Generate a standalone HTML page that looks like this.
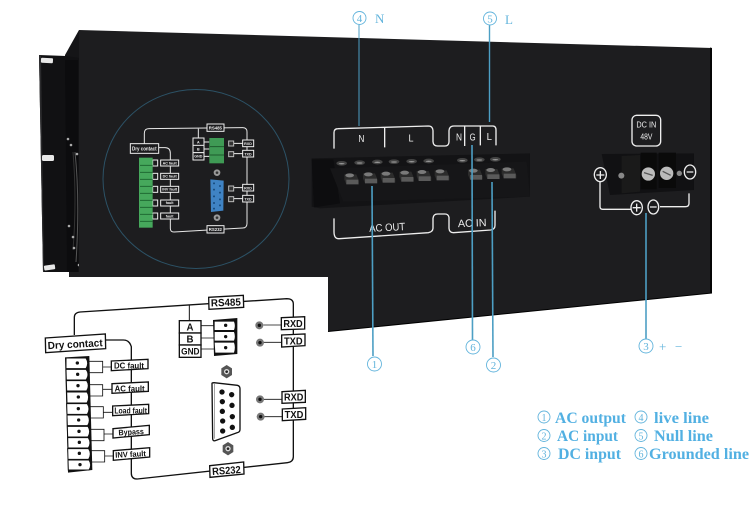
<!DOCTYPE html>
<html><head><meta charset="utf-8"><style>
html,body{margin:0;padding:0;background:#fff;width:750px;height:509px;overflow:hidden}
svg{display:block}
.w{font-family:"Liberation Sans",sans-serif;fill:#eee}
.b{font-family:"Liberation Sans",sans-serif;font-weight:bold;fill:#111}
.s{font-family:"Liberation Serif",serif;fill:#62b4dc}
.t{font-family:"Liberation Serif",serif;font-weight:bold;fill:#52b0e2;font-size:16px}
</style></head><body>
<svg width="750" height="509" viewBox="0 0 750 509" xmlns="http://www.w3.org/2000/svg">
<defs>
<g id="tm"><path d="M-22 -8 L14 -8 L22 12 L22 22 L-16 22 L-22 8Z" fill="#2c2c2c"/><path d="M-16 8 L20 8 L20 22 L-16 22Z" fill="#5a5a5a"/><ellipse cx="-6" cy="-5" rx="13" ry="6" fill="#7a7a7a"/></g>
<g id="tb"><ellipse cx="0" cy="0" rx="16" ry="7" fill="#444"/><ellipse cx="0" cy="1" rx="9" ry="2" fill="#999"/></g>
</defs>
<rect width="750" height="509" fill="#fff"/>
<!-- bracket -->
<path d="M65 55 L79 30 L80 60 L65 60Z" fill="#151517"/>
<path d="M39 55 L66 56 L80 58 L80 272 L43 272Z" fill="#111113"/>
<path d="M39 55 L43 272 L44 272 L41 56Z" fill="#2a2a2c"/>
<path d="M65 60 L67 272 L78 272 L78 60Z" fill="#0c0c0e"/>
<rect x="41" y="58" width="12" height="5" rx="1" fill="#e8e8e8" transform="rotate(3 47 60)"/>
<rect x="42" y="155" width="12" height="6" rx="1.500" fill="#e8e8e8"/>
<rect x="44" y="265" width="11" height="5" rx="1" fill="#e8e8e8" transform="rotate(-8 49 267)"/>
<path d="M75 152 Q80 200 76 262" fill="none" stroke="#555" stroke-width="1"/>
<path d="M73 152 Q77 200 73 250" fill="none" stroke="#333" stroke-width="1"/>
<g fill="#aaa"><circle cx="68" cy="139" r="1.300"/><circle cx="71" cy="145" r="1.300"/><circle cx="77" cy="154" r="1.300"/><circle cx="69" cy="226" r="1.300"/><circle cx="73" cy="237" r="1.300"/><circle cx="74" cy="248" r="1.300"/><circle cx="79" cy="265" r="1.300"/></g>
<!-- main panel -->
<path d="M79 30 L712 48 L712 293 L328 331.500 L328 277 L69 277 L69 272 L79 272Z" fill="#1d1d1f"/>
<path d="M710 47.500 L712 48 L712 293 L710 293.500Z" fill="#050505"/>
<path d="M328 331.500 L712 293" stroke="#000" stroke-width="1" fill="none"/>
<!-- circle -->
<ellipse cx="196" cy="179" rx="93" ry="89.500" fill="none" stroke="#2c5266" stroke-width="1"/>
<!-- mini diagram -->
<g transform="translate(30,20) scale(.33333)">
<path d="M343 372 V340 Q343 326 357 326 L638 323 Q651 323 651 336 V610 Q651 624 638 624 L432 636 Q421 636 421 625 V400 Q421 383 405 383 H385" fill="none" stroke="#e8e8e8" stroke-width="3"/>
<path d="M505 326 V355" stroke="#e8e8e8" stroke-width="3"/>
<rect x="301" y="371" width="85" height="29" fill="#1b1b1d" stroke="#eee" stroke-width="3"/>
<text x="343" y="392" text-anchor="middle" class="w" font-size="16" font-weight="bold" textLength="74" lengthAdjust="spacingAndGlyphs">Dry contact</text>
<rect x="531" y="312" width="51" height="22" fill="#1b1b1d" stroke="#eee" stroke-width="3"/>
<text x="556" y="328" text-anchor="middle" class="w" font-size="13" font-weight="bold">RS485</text>
<rect x="531" y="617" width="51" height="22" fill="#1b1b1d" stroke="#eee" stroke-width="3"/>
<text x="556" y="633" text-anchor="middle" class="w" font-size="13" font-weight="bold">RS232</text>
<g fill="#1b1b1d" stroke="#eee" stroke-width="3">
<rect x="489" y="354" width="33" height="24"/><rect x="489" y="376" width="33" height="22"/><rect x="489" y="398" width="33" height="22"/>
<rect x="638" y="360" width="33" height="20"/><rect x="638" y="391" width="33" height="20"/>
<rect x="638" y="493" width="33" height="20"/><rect x="638" y="526" width="33" height="20"/>
<rect x="392" y="420" width="54" height="18"/><rect x="392" y="460" width="54" height="18"/><rect x="392" y="499" width="54" height="18"/><rect x="392" y="540" width="54" height="18"/><rect x="392" y="579" width="54" height="18"/>
<rect x="368" y="420" width="15" height="18"/><rect x="368" y="460" width="15" height="18"/><rect x="368" y="499" width="15" height="18"/><rect x="368" y="540" width="15" height="18"/><rect x="368" y="579" width="15" height="18"/>
</g>
<g class="w" font-size="11" font-weight="bold" text-anchor="middle">
<text x="505" y="371">A</text><text x="505" y="392">B</text><text x="505" y="413">GND</text>
<text x="654" y="375">RXD</text><text x="654" y="406">TXD</text><text x="654" y="508">RXD</text><text x="654" y="541">TXD</text>
<text x="419" y="433">AC fault</text><text x="419" y="473">DC fault</text><text x="419" y="512">INV fault</text><text x="419" y="552">fault</text><text x="419" y="592">fault</text>
</g>
<path d="M522 366 H538 M522 387 H538 M522 409 H538 M612 370 H638 M612 401 H638 M612 503 H638 M612 536 H638" stroke="#eee" stroke-width="3"/>
<rect x="538" y="354" width="44" height="76" fill="#3f9a55"/>
<path d="M540 380 H582 M540 405 H582" stroke="#1e5a2d" stroke-width="3"/>
<rect x="327" y="413" width="41" height="210" fill="#46a85c"/>
<path d="M330 436 H368 M330 457 H368 M330 478 H368 M330 499 H368 M330 520 H368 M330 541 H368 M330 562 H368 M330 583 H368 M330 604 H368" stroke="#1f6a33" stroke-width="3"/>
<path d="M541 478 L581 482 L580 572 L543 576Z" fill="#3f83c4"/>
<g fill="#174a7c"><circle cx="552" cy="490" r="3"/><circle cx="552" cy="509" r="3"/><circle cx="552" cy="529" r="3"/><circle cx="552" cy="549" r="3"/><circle cx="552" cy="566" r="3"/><circle cx="570" cy="498" r="3"/><circle cx="570" cy="518" r="3"/><circle cx="570" cy="538" r="3"/><circle cx="570" cy="556" r="3"/></g>
<circle cx="561" cy="458" r="10" fill="#999"/><circle cx="561" cy="458" r="4" fill="#333"/>
<circle cx="561" cy="593" r="10" fill="#999"/><circle cx="561" cy="593" r="4" fill="#333"/>
<g fill="#333" stroke="#bbb" stroke-width="3"><rect x="596" y="363" width="15" height="15"/><rect x="596" y="395" width="15" height="15"/><rect x="596" y="498" width="15" height="15"/><rect x="596" y="530" width="15" height="15"/></g>
</g>
<!-- terminal block -->
<g transform="translate(300,100) scale(.33333)">
<path d="M35 175 L690 160 L690 290 L60 325 L35 320Z" fill="#131315"/>
<path d="M35 178 L100 178 L120 310 L42 322Z" fill="#0d0d0f"/>
<path d="M90 205 L680 185 L690 290 L130 305Z" fill="#161618"/>
<use href="#tb" x="125" y="190"/><use href="#tb" x="179" y="188"/><use href="#tb" x="232" y="186"/><use href="#tb" x="282" y="185"/><use href="#tb" x="335" y="184"/><use href="#tb" x="386" y="183"/><use href="#tb" x="487" y="181"/><use href="#tb" x="538" y="179"/><use href="#tb" x="586" y="178"/>
<use href="#tm" x="155" y="231"/><use href="#tm" x="211" y="228"/><use href="#tm" x="264" y="226"/><use href="#tm" x="320" y="223"/><use href="#tm" x="372" y="221"/><use href="#tm" x="426" y="219"/><use href="#tm" x="526" y="217"/><use href="#tm" x="578" y="215"/><use href="#tm" x="627" y="213"/>
<g fill="none" stroke="#eee" stroke-width="4">
<path d="M102 146 V98 Q102 86 114 86 L385 78 Q398 78 399 92 V125 Q400 138 413 138 H435 Q446 138 447 126 V92 Q448 78 462 78 H578 Q588 78 588 90 V136"/>
<path d="M254 84 V142 M494 78 V138 M541 78 V136"/>
<path d="M102 355 V395 Q102 418 118 416 L385 398 Q398 396 399 385 V355 Q400 342 413 342 H435 Q445 342 447 352 V385 Q448 398 460 398 L572 390 Q585 388 585 376 V332"/>
</g>
<g class="w" font-size="32" text-anchor="middle">
<text x="184" y="126" font-size="30" textLength="18" lengthAdjust="spacingAndGlyphs">N</text>
<text x="333" y="124" font-size="30" textLength="15" lengthAdjust="spacingAndGlyphs">L</text>
<text x="477" y="122" font-size="30" textLength="18" lengthAdjust="spacingAndGlyphs">N</text>
<text x="518" y="122" font-size="30" textLength="18" lengthAdjust="spacingAndGlyphs">G</text>
<text x="568" y="120" font-size="30" textLength="16" lengthAdjust="spacingAndGlyphs">L</text>
<text x="262" y="393" font-size="32" textLength="108" lengthAdjust="spacingAndGlyphs" transform="rotate(-3 262 393)">AC OUT</text>
<text x="517" y="380" font-size="32" textLength="86" lengthAdjust="spacingAndGlyphs" transform="rotate(-2 517 380)">AC IN</text>
</g>
</g>
<!-- DC block -->
<g transform="translate(570,100) scale(.33333)">
<rect x="186" y="46" width="86" height="92" rx="14" fill="none" stroke="#eee" stroke-width="4"/>
<text x="229" y="82" text-anchor="middle" class="w" font-size="24" textLength="60" lengthAdjust="spacingAndGlyphs">DC IN</text>
<text x="229" y="118" text-anchor="middle" class="w" font-size="24" textLength="36" lengthAdjust="spacingAndGlyphs">48V</text>
<path d="M95 162 L372 160 L372 270 L120 285Z" fill="#111113"/>
<path d="M155 168 L210 165 L210 275 L155 280Z" fill="#1a1a1a"/>
<rect x="212" y="158" width="48" height="110" fill="#0a0a0a"/><rect x="266" y="158" width="52" height="106" fill="#0a0a0a"/>
<circle cx="235" cy="222" r="20" fill="#bbb"/><path d="M222 218 L248 226" stroke="#555" stroke-width="4"/>
<circle cx="290" cy="220" r="20" fill="#bbb"/><path d="M278 214 L302 226" stroke="#555" stroke-width="4"/>
<circle cx="154" cy="227" r="9" fill="#888"/><circle cx="328" cy="220" r="8" fill="#888"/>
<path d="M90 245 V320 Q90 328 98 328 H184 M270 320 H346 Q357 320 357 310 V280" fill="none" stroke="#eee" stroke-width="4"/>
<g fill="#1b1b1d" stroke="#eee" stroke-width="4">
<ellipse cx="91" cy="224" rx="18" ry="21"/><ellipse cx="360" cy="216" rx="17" ry="21"/><ellipse cx="200" cy="323" rx="17" ry="21"/><ellipse cx="250" cy="321" rx="16" ry="21"/>
</g>
<path d="M79 225 H103 M91 213 V237 M350 216 H370 M188 323 H212 M200 311 V335 M240 321 H260" stroke="#eee" stroke-width="4"/>
</g>
<!-- blue leader lines -->
<g stroke="#4d9fc4" fill="none">
<path d="M359 25 V126" stroke-width="1"/>
<path d="M489.500 25 V122" stroke-width="1.400"/>
<path d="M372 186 L373 356" stroke-width="1.600"/>
<path d="M472 145 L472.500 340" stroke-width="1.600"/>
<path d="M492 182 L493 357" stroke-width="1.600"/>
<path d="M646 213 V339" stroke-width="1.600"/>
</g>
<!-- labels -->
<g fill="#fff" stroke="#62b4dc" stroke-width=".9">
<circle cx="359.500" cy="18" r="6.500"/><circle cx="490" cy="18.500" r="6.500"/>
<circle cx="374.500" cy="364" r="7"/><circle cx="473" cy="347" r="7"/><circle cx="493.500" cy="365" r="7"/><circle cx="646" cy="346" r="7"/>
<circle cx="544" cy="417" r="6"/><circle cx="544" cy="435.500" r="6"/><circle cx="544" cy="453.500" r="6"/>
<circle cx="641" cy="417" r="6"/><circle cx="641" cy="435.500" r="6"/><circle cx="641" cy="453.500" r="6"/>
</g>
<g class="s" font-size="11" text-anchor="middle">
<text x="359.500" y="22">4</text><text x="490" y="22.500">5</text>
<text x="374.500" y="368">1</text><text x="473" y="351">6</text><text x="493.500" y="369">2</text><text x="646" y="350">3</text>
<text x="544" y="421" font-size="10">1</text><text x="544" y="439.500" font-size="10">2</text><text x="544" y="457.500" font-size="10">3</text>
<text x="641" y="421" font-size="10">4</text><text x="641" y="439.500" font-size="10">5</text><text x="641" y="457.500" font-size="10">6</text>
</g>
<g class="s" font-size="13"><text x="375" y="23">N</text><text x="505" y="24">L</text><text x="659" y="351">+</text><text x="675" y="351">−</text></g>
<g class="t">
<text x="555" y="423" textLength="71" lengthAdjust="spacingAndGlyphs">AC output</text>
<text x="557" y="441" textLength="61" lengthAdjust="spacingAndGlyphs">AC input</text>
<text x="558" y="459" textLength="63" lengthAdjust="spacingAndGlyphs">DC input</text>
<text x="654" y="423" textLength="55" lengthAdjust="spacingAndGlyphs">live line</text>
<text x="654" y="441" textLength="59" lengthAdjust="spacingAndGlyphs">Null line</text>
<text x="649" y="459" textLength="100" lengthAdjust="spacingAndGlyphs">Grounded line</text>
</g>
<!-- large diagram -->
<g transform="translate(30,280) scale(.33333)">
<path d="M133 165 V112 Q133 98 150 96 L770 56 Q790 56 790 72 V530 Q790 546 772 548 L322 597 Q304 597 304 580 V200 Q298 180 280 180 H225" fill="none" stroke="#111" stroke-width="4"/>
<path d="M478 74 V120" stroke="#111" stroke-width="3"/>
<g fill="#fff" stroke="#111" stroke-width="4">
<path d="M46 174 L226 162 L227 206 L47 218Z"/>
<path d="M536 52 L640 46 L641 82 L537 88Z"/>
<path d="M539 557 L641 546 L642 582 L540 592Z"/>
<rect x="448" y="122" width="65" height="37"/><rect x="448" y="159" width="65" height="36"/><rect x="448" y="195" width="65" height="37"/>
<path d="M754 113 L824 110 L824 147 L754 149Z"/><path d="M755 165 L825 162 L825 197 L755 201Z"/>
<path d="M756 335 L826 331 L826 367 L756 370Z"/><path d="M757 387 L827 383 L827 418 L757 422Z"/>
<path d="M244 243 L354 238 L354 266 L244 272Z"/><path d="M246 311 L355 306 L355 334 L246 340Z"/>
<path d="M248 378 L356 373 L356 401 L248 407Z"/><path d="M249 446 L358 436 L358 464 L249 474Z"/>
<path d="M250 512 L359 503 L359 531 L250 541Z"/>
</g>
<path d="M178 244 H218 V278 H178 M218 261 H244 M178 314 H218 V348 H178 M218 328 H246 M180 380 H220 V414 H180 M220 397 H248 M182 448 H222 V482 H182 M222 462 H249 M184 512 H224 V546 H184 M224 528 H250" fill="none" stroke="#111" stroke-width="2.500"/>
<path d="M513 137 H552 M513 174 H552 M513 207 H552 M700 135 H754 M700 187 H755 M702 358 H756 M702 410 H757" stroke="#111" stroke-width="2.500"/>
<g class="b" text-anchor="middle">
<text x="136" y="203" font-size="31" textLength="165" lengthAdjust="spacingAndGlyphs" transform="rotate(-3 136 203)">Dry contact</text>
<text x="588" y="78" font-size="31" textLength="90" lengthAdjust="spacingAndGlyphs" transform="rotate(-2 588 78)">RS485</text>
<text x="590" y="582" font-size="31" textLength="86" lengthAdjust="spacingAndGlyphs" transform="rotate(-4 590 582)">RS232</text>
<text x="480" y="152" font-size="29">A</text><text x="480" y="188" font-size="29">B</text><text x="481" y="224" font-size="28" textLength="55" lengthAdjust="spacingAndGlyphs">GND</text>
<text x="789" y="141" font-size="29" textLength="58" lengthAdjust="spacingAndGlyphs">RXD</text><text x="790" y="193" font-size="29" textLength="56" lengthAdjust="spacingAndGlyphs">TXD</text>
<text x="791" y="362" font-size="29" textLength="58" lengthAdjust="spacingAndGlyphs">RXD</text><text x="792" y="414" font-size="29" textLength="56" lengthAdjust="spacingAndGlyphs">TXD</text>
<text x="297" y="266" font-size="24" textLength="90" lengthAdjust="spacingAndGlyphs">DC fault</text>
<text x="299" y="334" font-size="24" textLength="90" lengthAdjust="spacingAndGlyphs">AC fault</text>
<text x="302" y="400" font-size="24" textLength="98" lengthAdjust="spacingAndGlyphs">Load fault</text>
<text x="304" y="464" font-size="24" textLength="76" lengthAdjust="spacingAndGlyphs" transform="rotate(-3 304 464)">Bypass</text>
<text x="302" y="531" font-size="24" textLength="92" lengthAdjust="spacingAndGlyphs" transform="rotate(-3 302 531)">INV fault</text>
</g>
<!-- dry contact connector -->
<path d="M105 232 L178 228 L187 570 L114 578Z" fill="#111"/>
<g fill="#fff" stroke="#111" stroke-width="3">
<path d="M108 234 H168 Q178 250 168 266 H108Z"/><path d="M108 268 H168 Q180 283 168 300 H109Z"/>
<path d="M109 302 H170 Q180 317 170 333 H110Z"/><path d="M110 336 H171 Q181 351 171 369 H111Z"/>
<path d="M110 371 H172 Q182 386 172 403 H111Z"/><path d="M111 405 H173 Q183 421 173 437 H112Z"/>
<path d="M112 439 H174 Q184 455 174 471 H113Z"/><path d="M113 473 H175 Q185 488 175 504 H114Z"/>
<path d="M113 506 H176 Q186 521 176 538 H114Z"/><path d="M114 540 H177 Q187 555 177 570 H115Z"/>
</g>
<g fill="#111"><circle cx="142" cy="249" r="5"/><circle cx="143" cy="283" r="5"/><circle cx="144" cy="317" r="5"/><circle cx="145" cy="351" r="5"/><circle cx="145" cy="386" r="5"/><circle cx="146" cy="420" r="5"/><circle cx="147" cy="454" r="5"/><circle cx="148" cy="487" r="5"/><circle cx="148" cy="520" r="5"/><circle cx="150" cy="554" r="5"/></g>
<!-- 3-pin -->
<path d="M549 120 L622 114 L622 222 L552 228Z" fill="#111"/>
<g fill="#fff"><path d="M554 125 H612 Q617 138 612 150 H554Z"/><path d="M554 156 H612 Q617 169 612 182 H554Z"/><path d="M554 188 H612 Q617 202 612 218 H556Z"/></g>
<g fill="#111"><circle cx="587" cy="136" r="5"/><circle cx="587" cy="170" r="5"/><circle cx="587" cy="203" r="5"/></g>
<!-- DB9 -->
<path d="M546 310 Q546 308 552 308 L622 316 Q630 318 630 326 L630 448 Q630 456 622 458 L556 482 Q548 484 548 476Z" fill="#fff" stroke="#111" stroke-width="4"/>
<path d="M554 312 L554 476" stroke="#777" stroke-width="2"/>
<g fill="#111"><circle cx="576" cy="336" r="8"/><circle cx="577" cy="365" r="8"/><circle cx="577" cy="394" r="8"/><circle cx="578" cy="423" r="8"/><circle cx="578" cy="453" r="8"/><circle cx="605" cy="344" r="8"/><circle cx="606" cy="376" r="8"/><circle cx="607" cy="410" r="8"/><circle cx="607" cy="442" r="8"/></g>
<path d="M590 255 L606 265 L606 285 L590 295 L574 285 L574 265Z" fill="#555"/><circle cx="590" cy="275" r="8" fill="#ddd"/><circle cx="590" cy="275" r="4" fill="#222"/>
<path d="M594 486 L610 496 L610 516 L594 526 L578 516 L578 496Z" fill="#555"/><circle cx="594" cy="506" r="8" fill="#ddd"/><circle cx="594" cy="506" r="4" fill="#222"/>
<g fill="#777"><circle cx="688" cy="136" r="12"/><circle cx="690" cy="188" r="12"/><circle cx="690" cy="358" r="12"/><circle cx="692" cy="410" r="12"/></g>
<g fill="#111"><circle cx="688" cy="136" r="5"/><circle cx="690" cy="188" r="5"/><circle cx="690" cy="358" r="5"/><circle cx="692" cy="410" r="5"/></g>
</g>
</svg>
</body></html>
